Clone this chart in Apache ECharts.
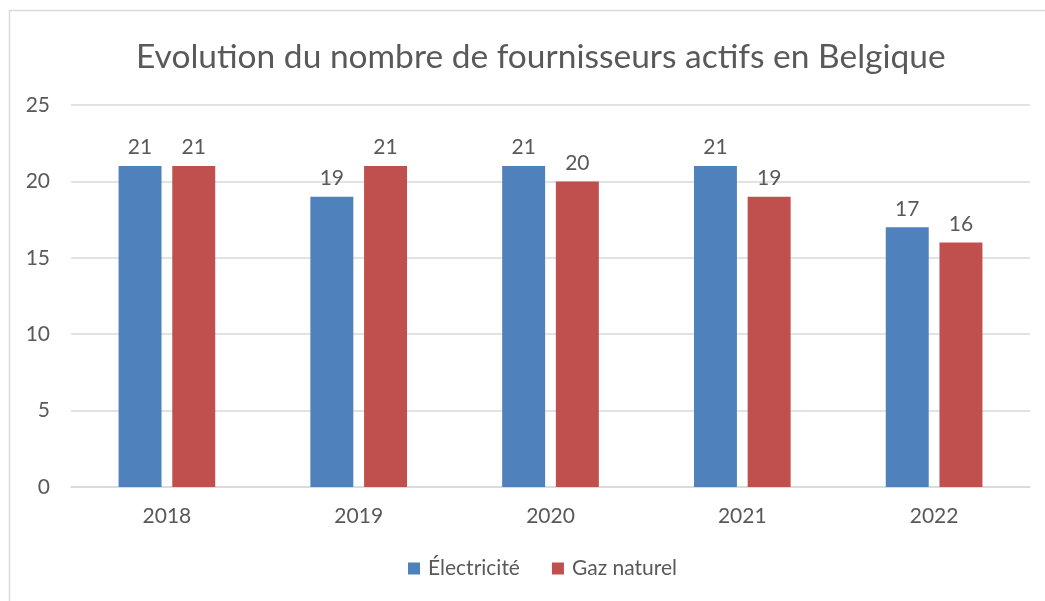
<!DOCTYPE html>
<html>
<head>
<meta charset="utf-8">
<script src="https://cdn.jsdelivr.net/npm/echarts@6/dist/echarts.min.js"></script>
<style>
  html, body { margin: 0; padding: 0; background: #fff; }
  #chart { width: 1045px; height: 601px; }
</style>
</head>
<body>
<div id="chart"></div>
<script>
const years = ['2018', '2019', '2020', '2021', '2022'];
const electricite = [21, 19, 21, 21, 17];
const gaz = [21, 21, 20, 19, 16];
const yTicks = { min: 0, max: 25, interval: 5 };

const chart = echarts.init(document.getElementById('chart'));
const textColor = '#595959';
const font = 'Lato, "Open Sans", sans-serif';

const labelStyle = {
    show: true,
    position: 'top',
    distance: 8,
    color: textColor,
    fontSize: 21,
    fontFamily: font
};

// the original frame is wider than the picture, so title and legend sit right of centre
chart.setOption({
    backgroundColor: '#fff',
    animation: false,
    graphic: [{
        type: 'rect',
        shape: { x: 9.5, y: 10.5, width: 1100, height: 700 },
        style: { fill: 'none', stroke: '#d9d9d9', lineWidth: 1.5 },
        silent: true
    }],
    title: {
        text: 'Evolution du nombre de fournisseurs actifs en Belgique',
        left: 131,
        top: 35,
        textStyle: {
            color: textColor,
            fontSize: 33.5,
            fontWeight: 'normal',
            fontFamily: font
        }
    },
    legend: {
        bottom: 17,
        left: 403,
        itemWidth: 12,
        itemHeight: 12,
        itemGap: 32,
        icon: 'rect',
        textStyle: { color: textColor, fontSize: 21, fontFamily: font, padding: [0, 0, 0, 3] }
    },
    grid: { left: 71, right: 15, top: 105, bottom: 114 },
    xAxis: {
        type: 'category',
        data: years,
        axisLine: { lineStyle: { color: '#d9d9d9', width: 1.5 } },
        axisTick: { show: false },
        axisLabel: { color: textColor, fontSize: 21, fontFamily: font, margin: 19 }
    },
    yAxis: {
        type: 'value',
        min: yTicks.min,
        max: yTicks.max,
        interval: yTicks.interval,
        axisLine: { show: false },
        axisTick: { show: false },
        axisLabel: { color: textColor, fontSize: 21, fontFamily: font, margin: 21 },
        splitLine: { lineStyle: { color: '#d9d9d9', width: 1.5 } }
    },
    series: [{
        name: 'Électricité',
        type: 'bar',
        data: electricite,
        barWidth: '22.4%',
        barGap: '25%',
        itemStyle: { color: '#4f81bd' },
        label: labelStyle
    }, {
        name: 'Gaz naturel',
        type: 'bar',
        data: gaz,
        barWidth: '22.4%',
        itemStyle: { color: '#c0504d' },
        label: labelStyle
    }]
});
</script>
</body>
</html>
